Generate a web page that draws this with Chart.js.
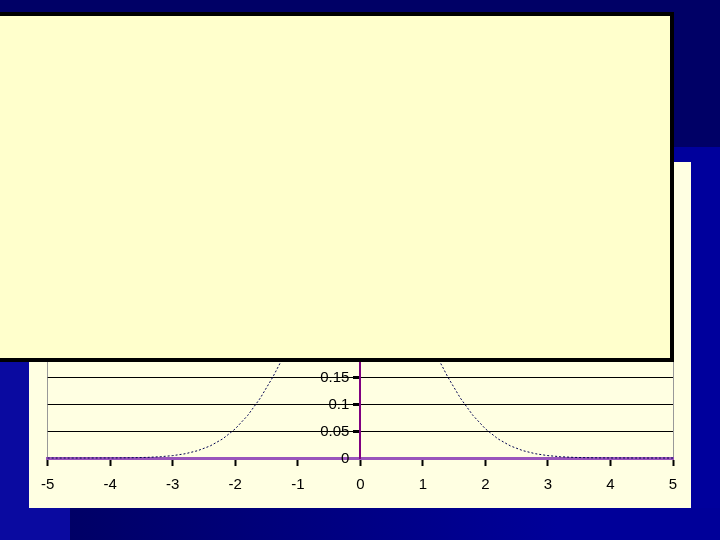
<!DOCTYPE html>
<html>
<head>
<meta charset="utf-8">
<script src="https://cdn.jsdelivr.net/npm/chart.js@4"></script>
<style>
  html, body { margin: 0; padding: 0; }
  body { width: 720px; height: 540px; background: #000066; position: relative; overflow: hidden; font-family: "Liberation Sans", Arial, sans-serif; }
  #blueLow { position: absolute; left: 0; top: 147px; width: 720px; height: 393px; background: #00009C; }
  #bottomGrad { position: absolute; left: 70px; top: 508px; width: 650px; height: 32px; background: linear-gradient(to right, #000066, #000099 75%); }
  #leftCol { position: absolute; left: 0; top: 360px; width: 70px; height: 180px; background: #0A0AA0; }
  #chartBox { position: absolute; left: 29px; top: 162px; width: 662px; height: 346px; background: #FFFFE2; }
  #overlay { position: absolute; left: -8px; top: 12px; width: 674px; height: 342px; background: #FFFFCC; border: 4px solid #000; }
</style>
</head>
<body>
<div id="blueLow"></div>
<div id="leftCol"></div>
<div id="bottomGrad"></div>
<div id="chartBox"><canvas id="c" width="662" height="346"></canvas></div>
<div id="overlay"></div>
<script>
// Data (normal density curve)
const xValues = [-5.0, -4.8, -4.6, -4.4, -4.2, -4.0, -3.8, -3.6, -3.4, -3.2, -3.0, -2.8, -2.6, -2.4, -2.2, -2.0, -1.8, -1.6, -1.4, -1.2, -1.0, -0.8, -0.6, -0.4, -0.2, 0.0,
                 0.2, 0.4, 0.6, 0.8, 1.0, 1.2, 1.4, 1.6, 1.8, 2.0, 2.2, 2.4, 2.6, 2.8, 3.0, 3.2, 3.4, 3.6, 3.8, 4.0, 4.2, 4.4, 4.6, 4.8, 5.0];
const yValues = [0, 0, 0, 0, 0.0001, 0.0001, 0.0003, 0.0006, 0.0012, 0.0024, 0.0044, 0.0079, 0.0136, 0.0224, 0.0355, 0.0540, 0.0790, 0.1109, 0.1497, 0.1942, 0.2420, 0.2897, 0.3332, 0.3683, 0.3910, 0.3989,
                 0.3910, 0.3683, 0.3332, 0.2897, 0.2420, 0.1942, 0.1497, 0.1109, 0.0790, 0.0540, 0.0355, 0.0224, 0.0136, 0.0079, 0.0044, 0.0024, 0.0012, 0.0006, 0.0003, 0.0001, 0.0001, 0, 0, 0, 0];
const xTicks = [-5, -4, -3, -2, -1, 0, 1, 2, 3, 4, 5];
const yTicks = [0, 0.05, 0.1, 0.15, 0.2, 0.25, 0.3, 0.35, 0.4, 0.45];
const yTickLabels = ["0", "0.05", "0.1", "0.15", "0.2", "0.25", "0.3", "0.35", "0.4", "0.45"];

const points = xValues.map((x, i) => ({ x: x, y: yValues[i] }));
const FONT = '"Liberation Sans", Arial, sans-serif';

// Draws the y tick labels to the left of the centred y axis, from the y scale's own ticks
const yLabelPlugin = {
  id: 'yLabels',
  afterDraw(chart) {
    const ys = chart.scales.y, xs = chart.scales.x;
    const ctx = chart.ctx;
    const axisX = xs.getPixelForValue(0);
    ctx.save();
    ctx.font = '15px ' + FONT;
    ctx.fillStyle = '#000000';
    ctx.textAlign = 'right';
    ctx.textBaseline = 'middle';
    ys.ticks.forEach((t) => {
      const i = yTicks.indexOf(t.value);
      ctx.fillText(i >= 0 ? yTickLabels[i] : String(t.value), axisX - 11, ys.getPixelForValue(t.value) + 1);
    });
    ctx.restore();
  }
};

new Chart(document.getElementById('c'), {
  type: 'scatter',
  data: {
    datasets: [{
      data: points,
      showLine: true,
      borderColor: '#000050',
      borderWidth: 1,
      borderDash: [2, 2],
      pointRadius: 0,
      tension: 0,
      clip: false
    }]
  },
  options: {
    responsive: false,
    animation: false,
    layout: { padding: { left: 18, right: 18, top: 53, bottom: 50 } },
    plugins: { legend: { display: false }, tooltip: { enabled: false } },
    scales: {
      x: {
        type: 'linear',
        position: { y: 0 },
        min: -5, max: 5,
        afterBuildTicks: (s) => { s.ticks = xTicks.map(v => ({ value: v })); },
        border: { display: true, color: '#9955BB', width: 3 },
        grid: {
          drawOnChartArea: true,
          color: (ctx) => (ctx.tick && (ctx.tick.value === -5 || ctx.tick.value === 5)) ? '#999999' : 'rgba(0,0,0,0)',
          tickColor: '#000000',
          tickLength: 6,
          tickWidth: 2,
          lineWidth: 1
        },
        ticks: {
          color: '#000000',
          font: { family: FONT, size: 15 },
          padding: 12,
          maxRotation: 0,
          autoSkip: false,
          callback: (v) => String(v)
        }
      },
      y: {
        type: 'linear',
        position: { x: 0 },
        min: 0, max: 0.45,
        afterBuildTicks: (s) => { s.ticks = yTicks.map(v => ({ value: v })); },
        border: { display: true, color: '#800080', width: 2 },
        grid: {
          drawOnChartArea: true,
          color: '#000000',
          tickColor: '#000000',
          tickLength: 6,
          tickWidth: 3,
          lineWidth: 1
        },
        ticks: { display: false }
      }
    }
  },
  plugins: [yLabelPlugin]
});
</script>
</body>
</html>
